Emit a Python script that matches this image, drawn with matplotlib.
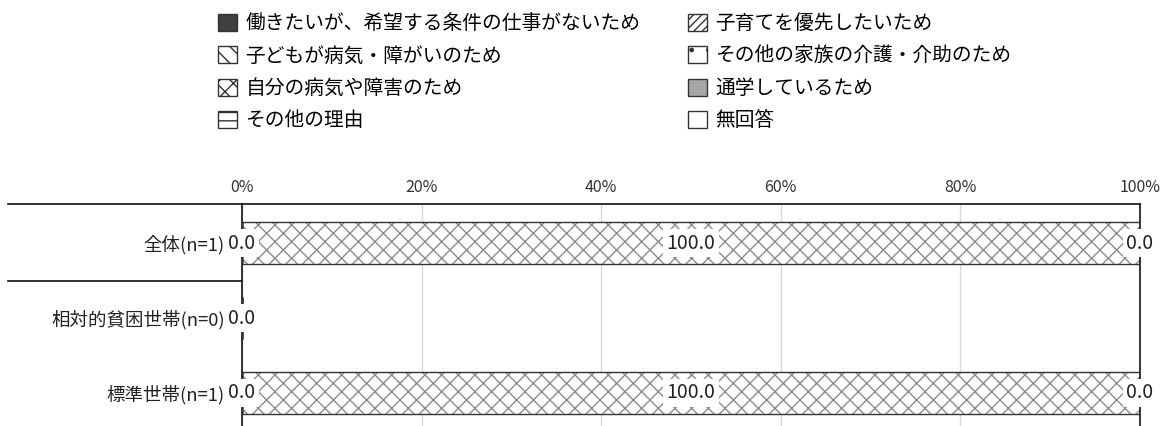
import numpy as np
import matplotlib
matplotlib.use("Agg")
import matplotlib.pyplot as plt
from matplotlib.patches import Patch
import matplotlib.transforms as mtransforms

plt.rcParams['font.family'] = ['Noto Sans CJK JP', 'DejaVu Sans']
plt.rcParams['hatch.linewidth'] = 1.0

# データ
groups = ['全体(n=1)', '相対的貧困世帯(n=0)', '標準世帯(n=1)']
reasons = ['働きたいが、希望する条件の仕事がないため', '子育てを優先したいため',
           '子どもが病気・障がいのため', 'その他の家族の介護・介助のため',
           '自分の病気や障害のため', '通学しているため',
           'その他の理由', '無回答']
values = np.array([
    [0.0, 0.0, 0.0, 0.0, 100.0, 0.0, 0.0, 0.0],
    [0.0, 0.0, 0.0, 0.0, 0.0, 0.0, 0.0, 0.0],
    [0.0, 0.0, 0.0, 0.0, 100.0, 0.0, 0.0, 0.0],
])
xticks = [0, 20, 40, 60, 80, 100]

# 凡例・棒のスタイル
faces = ['#404040', 'white', 'white', 'white', 'white', '#a6a6a6', 'white', 'white']
hatches = [None, '////', '\\\\', '.', 'xx', None, '--', None]
hatch_col = '#8c8c8c'
edge_col = '#333333'

W, H = 1162, 426
fig = plt.figure(figsize=(W / 100, H / 100), dpi=100)
ax = fig.add_axes([242 / W, 0, 898 / W, 222 / H])

y = np.arange(len(groups))
bar_h = 0.56
left = np.zeros(len(groups))
handles = []
for i, name in enumerate(reasons):
    v = values[:, i]
    ax.barh(y, v, left=left, height=bar_h, color=faces[i], hatch=hatches[i],
            edgecolor=hatch_col if hatches[i] else faces[i], linewidth=0, zorder=2)
    ax.barh(y, v, left=left, height=bar_h, fill=False, edgecolor=edge_col,
            linewidth=1.0, zorder=3)
    handles.append(Patch(facecolor=faces[i], hatch=hatches[i],
                         edgecolor=edge_col, linewidth=1.0, label=name))
    for r in range(len(groups)):
        if v[r] > 0 or i == 0 or i == len(reasons) - 1:
            ax.text(left[r] + v[r] / 2, y[r], f'{v[r]:.1f}', ha='center', va='center',
                    fontsize=14, color='#222222', zorder=5,
                    bbox=dict(facecolor='white', edgecolor='none', pad=2.5))
    left = left + v

ax.set_xlim(0, 100)
ax.set_ylim(2.44, -0.52)
ax.set_yticks(y)
ax.set_yticklabels(groups, fontsize=13.3, color='#222222')
ax.xaxis.tick_top()
ax.set_xticks(xticks)
ax.set_xticklabels([f'{t}%' for t in xticks], fontsize=11.5, color='#333333')
ax.tick_params(axis='both', length=0)
ax.tick_params(axis='y', pad=12.5)
ax.tick_params(axis='x', pad=6)
ax.grid(axis='x', color='#d9d9d9', linewidth=1.0, zorder=0)
ax.set_axisbelow(True)
for s in ['top', 'left', 'right']:
    ax.spines[s].set_color('#111111')
    ax.spines[s].set_linewidth(1.2)
ax.spines['bottom'].set_visible(False)

# 区切り線
tr = mtransforms.blended_transform_factory(ax.transAxes, ax.transData)
ax.plot([-0.2606, 0], [-0.52, -0.52], color='#111111', lw=1.2, transform=tr, clip_on=False)
ax.plot([-0.2606, 0], [0.5, 0.5], color='#111111', lw=1.2, transform=tr, clip_on=False)

# 凡例 (行優先に並べ替え)
order = [0, 2, 4, 6, 1, 3, 5, 7]
fig.legend(handles=[handles[k] for k in order], loc='upper left',
           bbox_to_anchor=(218 / W, 1 - 13 / H), ncol=2, frameon=False,
           fontsize=14.2, handlelength=0.95, handleheight=0.95,
           handletextpad=0.45, columnspacing=2.4, labelspacing=0.58,
           borderpad=0, borderaxespad=0)

fig.savefig('out.png', dpi=100)
